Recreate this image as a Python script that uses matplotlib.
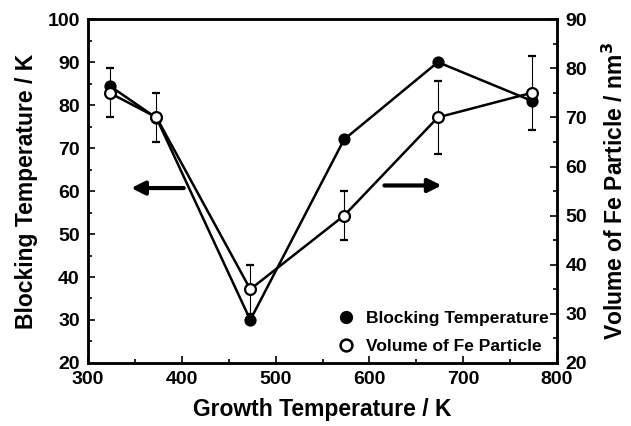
import matplotlib
matplotlib.use("Agg")
import matplotlib.pyplot as plt
from matplotlib.lines import Line2D

plt.rcParams['font.family'] = ['Liberation Sans', 'DejaVu Sans']
plt.rcParams['font.weight'] = 'bold'

# data
growth_temp = [323, 373, 473, 573, 673, 773]
blocking_temp = [84.5, 77, 30, 72, 90, 81]
volume = [75, 70, 35, 50, 70, 75]
volume_err = [5, 5, 5, 5, 7.5, 7.5]

fig = plt.figure(figsize=(6.31, 4.26), dpi=100)
ax1 = fig.add_axes([0.1395, 0.148, 0.7432, 0.807])
ax2 = ax1.twinx()

ax1.plot(growth_temp, blocking_temp, color='black', lw=1.8, marker='o',
         ms=7.8, mfc='black', mec='black', zorder=3)
ax2.errorbar(growth_temp, volume, yerr=volume_err, color='black', lw=1.8,
             marker='o', ms=7.8, mfc='white', mec='black', mew=1.6,
             ecolor='black', elinewidth=0.8, capsize=3, capthick=0.8, zorder=3)

ax1.set_xlim(300, 800)
ax1.set_ylim(20, 100)
ax2.set_ylim(20, 90)

ax1.set_xticks([300, 400, 500, 600, 700, 800])
ax1.set_xticks(range(350, 800, 100), minor=True)
ax1.set_yticks(range(20, 101, 10))
ax1.set_yticks(range(25, 100, 10), minor=True)
ax2.set_yticks(range(20, 91, 10))
ax2.set_yticks(range(25, 90, 10), minor=True)

for ax in (ax1, ax2):
    ax.tick_params(which='both', direction='in', width=1.2, labelsize=14)
    ax.tick_params(which='major', length=5)
    ax.tick_params(which='minor', length=3)
    ax.tick_params(axis='y', which='major', pad=6)
    for s in ax.spines.values():
        s.set_linewidth(1.8)
ax1.tick_params(axis='x', which='major', pad=6)

ax1.set_xlabel('Growth Temperature / K', fontsize=16.5, fontweight='bold', labelpad=7)
ax1.set_ylabel('Blocking Temperature / K', fontsize=16.5, fontweight='bold', labelpad=7)
ax2.set_ylabel('Volume of Fe Particle / nm$^\\mathbf{3}$', fontsize=16.5,
               fontweight='bold', labelpad=11)

# arrows pointing to each axis
ax1.annotate('', xy=(343, 60.7), xytext=(405, 60.7),
             arrowprops=dict(arrowstyle='-|>', color='black', lw=3,
                             mutation_scale=20))
ax1.annotate('', xy=(680, 61.3), xytext=(613, 61.3),
             arrowprops=dict(arrowstyle='-|>', color='black', lw=3,
                             mutation_scale=20))

handles = [
    Line2D([], [], ls='none', marker='o', ms=8.5, mfc='black', mec='black'),
    Line2D([], [], ls='none', marker='o', ms=8.5, mfc='white', mec='black', mew=1.8),
]
ax2.legend(handles, ['Blocking Temperature', 'Volume of Fe Particle'],
           loc='lower right', frameon=False, fontsize=12.5, handletextpad=0.5,
           borderaxespad=0.2, labelspacing=0.75, handlelength=1.2,
           borderpad=0.3)

fig.savefig('out.png', dpi=100)
